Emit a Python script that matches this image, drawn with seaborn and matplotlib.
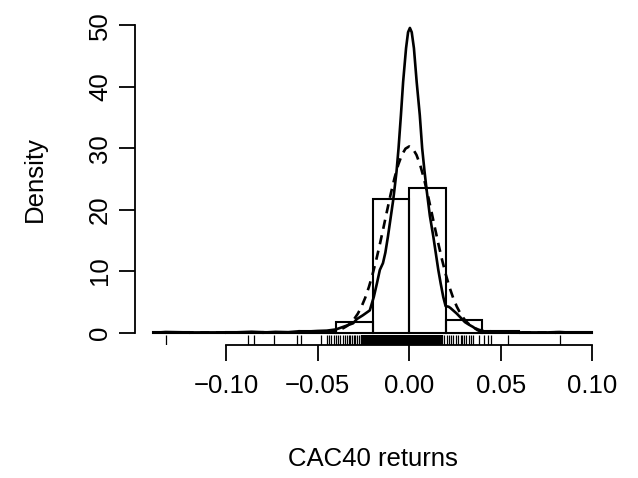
import matplotlib
matplotlib.use("Agg")
import matplotlib.pyplot as plt
import seaborn as sns
import numpy as np

# ---- data ----
breaks = [-0.14, -0.12, -0.10, -0.08, -0.06, -0.04, -0.02, 0.0, 0.02, 0.04, 0.06, 0.08, 0.10]
bin_heights = [0.027, 0.0, 0.054, 0.08, 0.3, 1.77, 21.7, 23.6, 2.04, 0.2, 0.0, 0.027]

dens_x = [-0.137, -0.133, -0.12, -0.095, -0.086, -0.078, -0.073, -0.066, -0.060, -0.056,
          -0.050, -0.045, -0.040, -0.0362, -0.0306, -0.0285, -0.0253, -0.0215, -0.0193,
          -0.0176, -0.016, -0.0143, -0.013, -0.0116, -0.0087, -0.0069, -0.0058, -0.0045,
          -0.0033, -0.0017, -0.0006, 0.0004, 0.0014, 0.0026, 0.0041, 0.0058, 0.0071,
          0.0084, 0.0095, 0.0113, 0.0132, 0.0146, 0.0159, 0.0172, 0.0186, 0.0199, 0.0215,
          0.0225, 0.0259, 0.0285, 0.0304, 0.0325, 0.0349, 0.0372, 0.0394, 0.042, 0.0445,
          0.049, 0.054, 0.060, 0.075, 0.082, 0.087]
dens_y = [0.0, 0.08, 0.01, 0.02, 0.12, 0.02, 0.1, 0.05, 0.2, 0.15,
          0.25, 0.3, 0.5, 0.9, 1.5, 2.2, 2.8, 3.6, 5.8,
          8.0, 10.2, 11.3, 13.0, 15.6, 21.6, 26.2, 30.0, 35.4,
          40.8, 46.3, 48.9, 49.6, 48.9, 46.3, 40.8, 35.4, 30.0,
          26.2, 23.3, 19.0, 15.6, 12.8, 10.2, 8.0, 5.8, 4.3, 4.2,
          4.0, 3.1, 2.3, 1.7, 1.3, 0.9, 0.4, 0.1, 0.15, 0.2,
          0.05, 0.1, 0.02, 0.01, 0.08, 0.0]

norm_x = [-0.14, -0.055, -0.048, -0.044, -0.040, -0.038, -0.036, -0.034, -0.032, -0.030,
          -0.028, -0.026, -0.024, -0.022, -0.020, -0.018, -0.016, -0.014, -0.012,
          -0.010, -0.008, -0.006, -0.004, -0.002, 0.000, 0.002, 0.004, 0.006, 0.008,
          0.010, 0.012, 0.014, 0.016, 0.018, 0.020, 0.022, 0.024, 0.026, 0.028, 0.030,
          0.032, 0.034, 0.036, 0.038, 0.040, 0.044, 0.048, 0.055, 0.10]
norm_y = [0.0, 0.003, 0.04, 0.11, 0.29, 0.45, 0.70, 1.05, 1.53, 2.20,
          3.08, 4.22, 5.65, 7.39, 9.45, 11.79, 14.37, 17.12, 19.92,
          22.65, 25.15, 27.29, 28.92, 29.94, 30.30, 29.94, 28.92, 27.29, 25.15,
          22.65, 19.92, 17.12, 14.37, 11.79, 9.45, 7.39, 5.65, 4.22, 3.08, 2.20,
          1.53, 1.05, 0.70, 0.45, 0.29, 0.11, 0.04, 0.003, 0.0]

# rug positions in units of 1e-4
rug_left_bp = [-1326, -881, -847, -739, -614, -592, -483, -448, -437, -426, -411, -399,
               -388, -375, -361, -348, -339, -330, -321, -311, -302, -293, -284, -273, -262]
rug_dense_bp = [-255, -250, -245, -240, -235, -230, -225, -220, -215, -210, -205, -200,
                -195, -190, -185, -180, -175, -170, -165, -160, -155, -150, -145, -140,
                -135, -130, -125, -120, -115, -110, -105, -100, -95, -90, -85, -80, -75,
                -70, -65, -60, -55, -50, -45, -40, -35, -30, -25, -20, -15, -10, -5, 0,
                5, 10, 15, 20, 25, 30, 35, 40, 45, 50, 55, 60, 65, 70, 75, 80, 85, 90,
                95, 100, 105, 110, 115, 120, 125, 130, 135, 140, 145, 150, 155, 160, 165,
                170, 175, 180]
rug_right_bp = [191, 204, 215, 228, 240, 255, 269, 283, 291, 301, 313, 324, 337, 350,
                383, 410, 433, 446, 537, 823]

x_ticks = [-0.10, -0.05, 0.00, 0.05, 0.10]
x_ticklabels = ["\u22120.10", "\u22120.05", "0.00", "0.05", "0.10"]
y_ticks = [0, 10, 20, 30, 40, 50]

# ---- plot ----
sns.set_style("ticks")
plt.rcParams["font.family"] = ["Liberation Sans", "DejaVu Sans"]
plt.rcParams["text.color"] = "black"
plt.rcParams["axes.labelcolor"] = "black"
FS = 18.5

fig = plt.figure(figsize=(6.38, 4.78), dpi=100)
ax = fig.add_axes([0.2118, 0.2787, 0.7442, 0.6937])

centers = [(a + b) / 2 for a, b in zip(breaks[:-1], breaks[1:])]
sns.histplot(x=centers, weights=bin_heights, bins=breaks, stat="count", fill=False,
             color="black", linewidth=1.5, ax=ax)
sns.lineplot(x=dens_x, y=dens_y, color="black", linewidth=1.9, sort=False,
             estimator=None, ax=ax)
sns.lineplot(x=norm_x, y=norm_y, color="black", linewidth=1.9, sort=False,
             estimator=None, ax=ax)
ax.lines[-1].set_dashes([3.5, 2.5])

rug_sparse = [v / 10000 for v in rug_left_bp + rug_right_bp]
rug_dense = [v / 10000 for v in rug_dense_bp]
sns.rugplot(x=rug_sparse, height=0.03, color="black", linewidth=0.9,
            expand_margins=False, ax=ax)
sns.rugplot(x=rug_dense, height=0.03, color="black", linewidth=1.6,
            expand_margins=False, ax=ax)

ax.set_xlim(-0.1496, 0.1096)
ax.set_ylim(-2, 52)

for s in ["top", "right"]:
    ax.spines[s].set_visible(False)
ax.spines["left"].set_bounds(0, 50)
ax.spines["bottom"].set_bounds(-0.10, 0.10)
for s in ["left", "bottom"]:
    ax.spines[s].set_linewidth(1.3)
    ax.spines[s].set_color("black")

ax.set_xticks(x_ticks)
ax.set_xticklabels(x_ticklabels)
ax.set_yticks(y_ticks)
ax.set_yticklabels([str(v) for v in y_ticks], rotation=90, va="center")
ax.tick_params(direction="out", length=11.5, width=1.3, color="black",
               labelsize=FS, labelcolor="black")
ax.tick_params(axis="x", pad=9.5)
ax.tick_params(axis="y", pad=5)

ax.set_xlabel("CAC40 returns", fontsize=FS, color="black")
ax.set_ylabel("Density", fontsize=FS, color="black")
ax.xaxis.set_label_coords(0.5, -0.3444)
ax.xaxis.label.set_va("center")
ax.yaxis.set_label_coords(-0.2108, 0.5)
ax.yaxis.label.set_va("center")

fig.savefig("out.png", dpi=100)
